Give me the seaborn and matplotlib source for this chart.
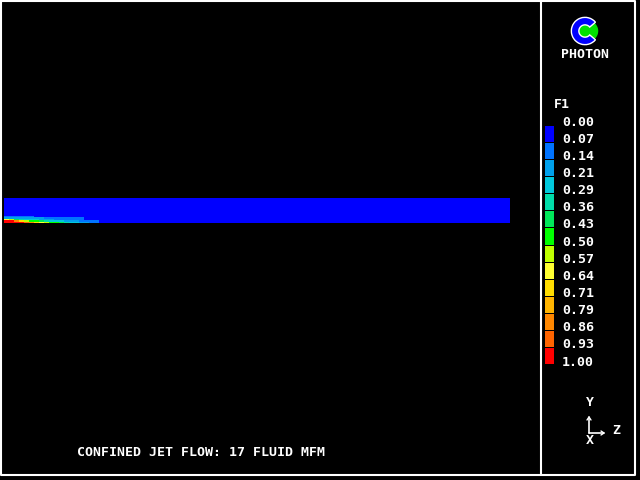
import numpy as np
import pandas as pd
import matplotlib
matplotlib.use("Agg")
import matplotlib.pyplot as plt
import seaborn as sns
from matplotlib.colors import ListedColormap, BoundaryNorm
from matplotlib.patches import Wedge, Circle

# contour levels and colours of the F1 scale
levels = [0.00, 0.07, 0.14, 0.21, 0.29, 0.36, 0.43, 0.50,
          0.57, 0.64, 0.71, 0.79, 0.86, 0.93, 1.00]
level_colors = ["#0000ff", "#0073ff", "#00a0eb", "#00c8dc", "#00dcaa",
                "#00e65a", "#00ff00", "#beff00", "#ffff32", "#ffdc00",
                "#ffb400", "#ff8700", "#ff6400", "#ff0000"]

# F1 along the domain, rows from the axis upwards (only the jet part, rest 0)
n_cols = 101
n_rows = 18
row0 = [1.0, 1.0, 1.0, 1.0, 0.9, 0.82, 0.7, 0.62, 0.55, 0.47, 0.45, 0.4,
        0.3, 0.25, 0.22, 0.18, 0.15, 0.12, 0.09]
row1 = [1.0, 0.95, 0.85, 0.68, 0.55, 0.48, 0.45, 0.38, 0.33, 0.28, 0.25,
        0.22, 0.2, 0.17, 0.15, 0.13, 0.11, 0.09, 0.08]
row2 = [0.6, 0.5, 0.4, 0.33, 0.26, 0.24, 0.22, 0.2, 0.18, 0.15, 0.13,
        0.12, 0.11, 0.1, 0.09, 0.08]
row3 = [0.2, 0.19, 0.18, 0.17, 0.16, 0.16, 0.15, 0.15, 0.12, 0.11, 0.1,
        0.1, 0.09, 0.09, 0.08, 0.08]
row4 = [0.1, 0.09, 0.09, 0.08, 0.08, 0.08]
title = "CONFINED JET FLOW: 17 FLUID MFM"

W, H = 640, 480


def fx(px):
    return px / W


def fy(py):
    return 1 - py / H


def box(x0, y0, x1, y1):
    return [fx(x0), fy(y1), fx(x1 - x0), (y1 - y0) / H]


sns.set_theme(style="dark", rc={"figure.facecolor": "black",
                                "axes.facecolor": "black"})
plt.rcParams["font.family"] = ["DejaVu Sans Mono"]

fig = plt.figure(figsize=(6.4, 4.8), dpi=100)

# field
field = np.zeros((n_rows, n_cols))
for i, r in enumerate([row0, row1, row2, row3, row4]):
    field[i, :len(r)] = r
df = pd.DataFrame(field[::-1])

cmap = ListedColormap(level_colors)
norm = BoundaryNorm(np.linspace(0, 1, 15), cmap.N)

ax = fig.add_axes(box(4, 198, 510, 223))
sns.heatmap(df, ax=ax, cmap=cmap, norm=norm, cbar=False,
            xticklabels=False, yticklabels=False)
ax.set_xlabel("")
ax.set_ylabel("")

# legend blocks
mids = [(levels[i] + levels[i + 1]) / 2 for i in range(14)]
lax = fig.add_axes(box(544, 125, 554, 364))
sns.heatmap(pd.DataFrame({"F1": mids}), ax=lax, cmap=cmap, norm=norm,
            cbar=False, xticklabels=False, yticklabels=False,
            linewidths=0.4, linecolor="black")
lax.set_xlabel("")
lax.set_ylabel("")

tk = dict(color="white", fontsize=9.5, fontweight="bold",
          family="DejaVu Sans Mono")
fig.text(fx(554), fy(104), "F1", va="center", **tk)
for i, lv in enumerate(levels):
    y = 122 + i * (362 - 122) / 14
    fig.text(fx(562), fy(y), f"{lv:.2f}", va="center", **tk)

fig.text(fx(201), fy(452), title, ha="center", va="center", **tk)
fig.text(fx(585), fy(55), "PHOTON", ha="center", va="center", **tk)

# axis triad
fig.text(fx(590), fy(402), "Y", ha="center", va="center", **tk)
fig.text(fx(616), fy(430), "Z", ha="center", va="center", **tk)
fig.text(fx(590), fy(440), "X", ha="center", va="center", **tk)
fig.add_artist(plt.Line2D([fx(589), fx(589)], [fy(433), fy(417)],
                          color="white", lw=1.2))
fig.add_artist(plt.Line2D([fx(589), fx(604)], [fy(433), fy(433)],
                          color="white", lw=1.2))
fig.add_artist(plt.Line2D([fx(587), fx(589), fx(591)],
                          [fy(420), fy(417), fy(420)], color="white", lw=1))
fig.add_artist(plt.Line2D([fx(601), fx(604), fx(601)],
                          [fy(431), fy(433), fy(435)], color="white", lw=1))

# frame and divider
fig.add_artist(plt.Line2D([fx(1), fx(635), fx(635), fx(1), fx(1)],
                          [fy(1), fy(1), fy(475), fy(475), fy(1)],
                          color="white", lw=1.5))
fig.add_artist(plt.Line2D([fx(541), fx(541)], [fy(1), fy(475)],
                          color="white", lw=1.5))

# logo
gax = fig.add_axes(box(570, 16, 600, 46))
gax.set_xlim(-1.1, 1.1)
gax.set_ylim(-1.1, 1.1)
gax.set_aspect("equal")
gax.axis("off")
gax.add_patch(Circle((0.2, 0), 0.72, color="#00e000"))
gax.add_patch(Wedge((0, 0), 1.0, 40, 320, width=0.55, facecolor="#0000ff",
                    edgecolor="white", lw=1))

fig.savefig("out.png", dpi=100, facecolor="black")
